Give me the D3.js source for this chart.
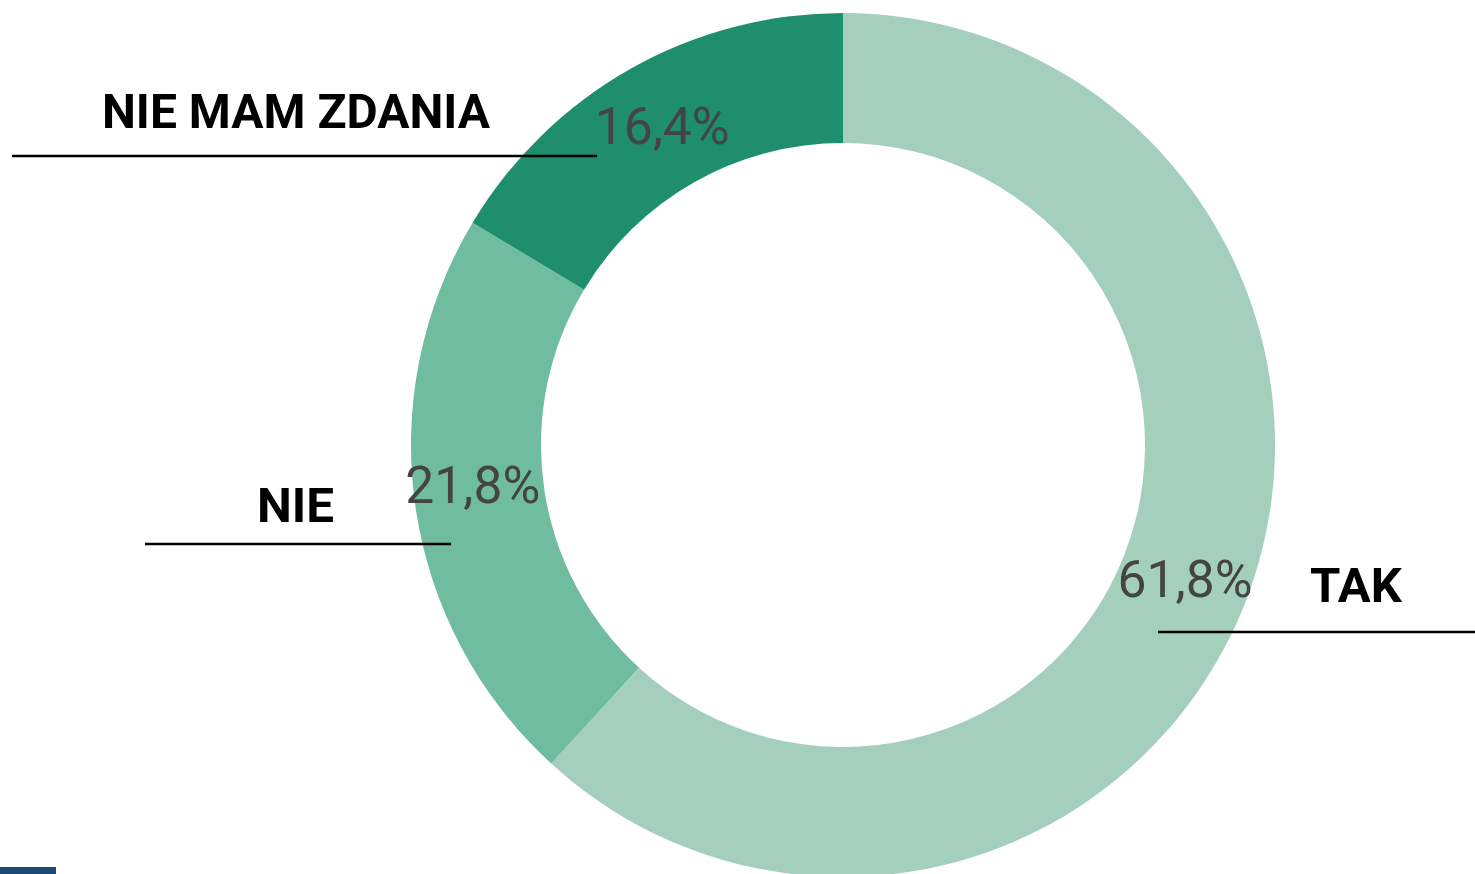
<!DOCTYPE html>
<html><head><meta charset="utf-8">
<script src="https://cdn.jsdelivr.net/npm/d3@7"></script>
<style>html,body{margin:0;padding:0;background:#fff;overflow:hidden}</style>
</head><body>
<svg id="chart" width="1475" height="874"></svg>
<script>
// ---- data ----
const categories = ["TAK", "NIE", "NIE MAM ZDANIA"];
const values = [61.8, 21.8, 16.4];
const valueLabels = ["61,8%", "21,8%", "16,4%"];

// ---- layout / style ----
const W = 1475, H = 874;
const cx = 843, cy = 445, outerR = 432, innerR = 302;
const colors = ["#a5cfbd", "#6fbc9e", "#1f8e6c"];
const labelNudge = [[0, 2], [-7, -12], [0, 1]];
const catLayout = [
  {x: 1356, y: 602, w: 92, lx1: 1158, lx2: 1475, ly: 632},
  {x: 295.5, y: 522, w: 77, lx1: 145, lx2: 451, ly: 544},
  {x: 296, y: 128, w: 388, lx1: 12, lx2: 597, ly: 156}
];

const svg = d3.select("#chart");
const data = categories.map((c, i) => ({cat: c, value: values[i], label: valueLabels[i], i}));

const pie = d3.pie().value(d => d.value).sort(null).startAngle(0).endAngle(2 * Math.PI);
const arc = d3.arc().innerRadius(innerR).outerRadius(outerR);
const color = d3.scaleOrdinal().domain(categories).range(colors);

const g = svg.append("g").attr("transform", `translate(${cx},${cy})`);
const arcs = pie(data);

g.selectAll("path.slice").data(arcs).join("path")
  .attr("class", "slice")
  .attr("d", arc)
  .attr("fill", d => color(d.data.cat));

g.selectAll("text.pct").data(arcs).join("text")
  .attr("class", "pct")
  .attr("x", d => arc.centroid(d)[0] + labelNudge[d.data.i][0])
  .attr("y", d => arc.centroid(d)[1] + labelNudge[d.data.i][1])
  .attr("text-anchor", "middle")
  .attr("dominant-baseline", "central")
  .attr("font-family", "Roboto, 'Noto Sans', sans-serif")
  .attr("font-weight", 400)
  .attr("font-size", 52)
  .attr("fill", "#444444")
  .attr("textLength", 135)
  .attr("lengthAdjust", "spacingAndGlyphs")
  .text(d => d.data.label);

// category annotations
const ann = svg.append("g");
data.forEach(d => {
  const L = catLayout[d.i];
  ann.append("line")
    .attr("x1", L.lx1).attr("x2", L.lx2)
    .attr("y1", L.ly).attr("y2", L.ly)
    .attr("stroke", "#000").attr("stroke-width", 2.5);
  ann.append("text")
    .attr("x", L.x).attr("y", L.y)
    .attr("text-anchor", "middle")
    .attr("font-family", "Roboto, 'Noto Sans', sans-serif")
    .attr("font-weight", 700)
    .attr("font-size", 49)
    .attr("fill", "#000")
    .attr("textLength", L.w)
    .attr("lengthAdjust", "spacingAndGlyphs")
    .text(d.cat);
});

// small cut-off element at bottom-left
svg.append("rect").attr("x", 0).attr("y", 867).attr("width", 56).attr("height", 7).attr("fill", "#1b4a77");
</script>
</body></html>
